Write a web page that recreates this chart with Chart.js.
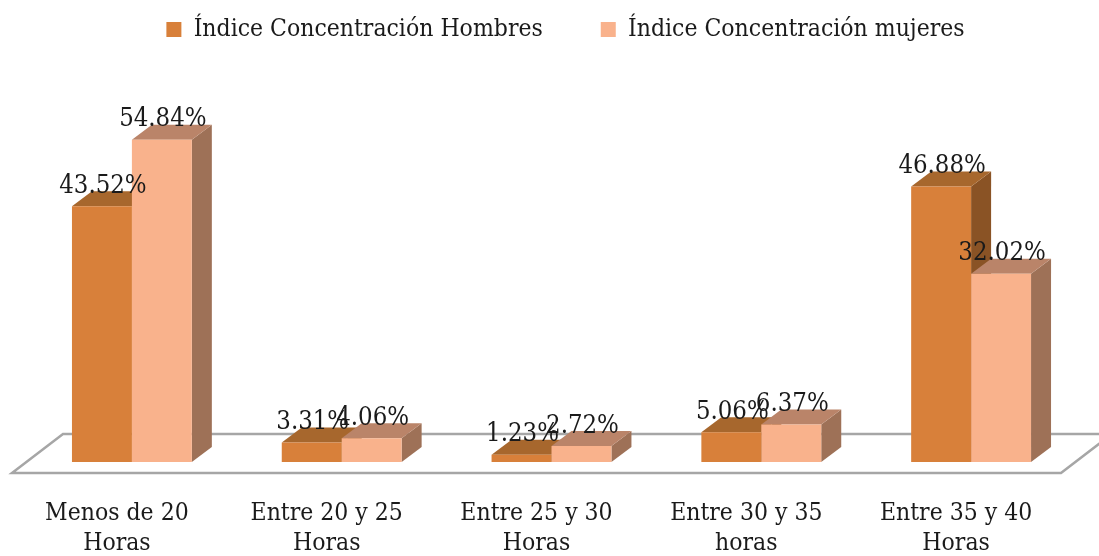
<!DOCTYPE html>
<html>
<head>
<meta charset="utf-8">
<script src="https://cdn.jsdelivr.net/npm/chart.js@4"></script>
<style>
  html, body { margin: 0; padding: 0; background: #fff; overflow: hidden; }
  canvas { display: block; }
</style>
</head>
<body>
<canvas id="hoursChart" width="1099" height="556"></canvas>
<script>
const categories = [
  ["Menos de 20", "Horas"],
  ["Entre 20 y 25", "Horas"],
  ["Entre 25 y 30", "Horas"],
  ["Entre 30 y 35", "horas"],
  ["Entre 35 y 40", "Horas"],
];
const hombres = [43.52, 3.31, 1.23, 5.06, 46.88];
const mujeres = [54.84, 4.06, 2.72, 6.37, 32.02];

const FONT = "'DejaVu Serif Condensed', 'DejaVu Serif', serif";
const DEPTH_X = 20;
const DEPTH_Y = 15;

function fillFace(ctx, pts, color) {
  ctx.fillStyle = color;
  ctx.beginPath();
  pts.forEach((p, i) => (i ? ctx.lineTo(p[0], p[1]) : ctx.moveTo(p[0], p[1])));
  ctx.closePath();
  ctx.fill();
}

// The floor, the depth of the bars and the value labels
const fake3d = {
  id: "fake3d",
  afterLayout(chart) {
    // legend sits off-centre in the original
    chart.legend.left += 14;
    chart.legend.right += 14;
    chart.legend.top += 1;
  },
  beforeDatasetsDraw(chart) {
    const { ctx, chartArea, scales } = chart;
    const base = scales.y.getPixelForValue(0);
    const front = base + 11;
    const back = base - 28;
    ctx.save();
    ctx.strokeStyle = "#a6a6a6";
    ctx.lineWidth = 2.5;
    ctx.beginPath();
    ctx.moveTo(chartArea.right + 74, back);
    ctx.lineTo(chartArea.left + 36, back);
    ctx.lineTo(chartArea.left - 15, front);
    ctx.lineTo(chartArea.right - 15, front);
    ctx.lineTo(chartArea.right + 36, back);
    ctx.stroke();
    ctx.restore();
    // side and top faces, left series first so the right one covers it
    chart.data.datasets.forEach((ds, i) => {
      chart.getDatasetMeta(i).data.forEach((bar) => {
        const l = bar.x - bar.width / 2;
        const r = bar.x + bar.width / 2;
        const t = bar.y;
        const b = bar.base;
        fillFace(ctx, [[r, b], [r + DEPTH_X, b - DEPTH_Y], [r + DEPTH_X, t - DEPTH_Y], [r, t]], ds.sideColor);
        fillFace(ctx, [[l, t], [l + DEPTH_X, t - DEPTH_Y], [r + DEPTH_X, t - DEPTH_Y], [r, t]], ds.topColor);
      });
    });
  },
  afterDatasetsDraw(chart) {
    const { ctx } = chart;
    ctx.save();
    ctx.font = "25.5px " + FONT;
    ctx.fillStyle = "#1a1a1a";
    ctx.textAlign = "center";
    ctx.textBaseline = "middle";
    chart.data.datasets.forEach((ds, i) => {
      chart.getDatasetMeta(i).data.forEach((bar, j) => {
        ctx.fillText(ds.data[j].toFixed(2) + "%", bar.x + 1, bar.y - 20);
      });
    });
    ctx.restore();
  },
};

new Chart(document.getElementById("hoursChart").getContext("2d"), {
  type: "bar",
  data: {
    labels: categories,
    datasets: [
      {
        label: "Índice Concentración Hombres",
        data: hombres,
        backgroundColor: "#d8803a",
        topColor: "#a7672d",
        sideColor: "#8a5325",
      },
      {
        label: "Índice Concentración mujeres",
        data: mujeres,
        backgroundColor: "#f9b28c",
        topColor: "#ba8469",
        sideColor: "#9e7157",
      },
    ],
  },
  options: {
    responsive: false,
    animation: false,
    layout: { padding: { top: -41.8, left: 27, right: 23, bottom: 0 } },
    datasets: { bar: { categoryPercentage: 0.5714, barPercentage: 1 } },
    plugins: {
      tooltip: { enabled: false },
      legend: {
        position: "top",
        labels: {
          boxWidth: 15,
          boxHeight: 15,
          padding: 58,
          color: "#1a1a1a",
          font: { family: FONT, size: 24.5 },
        },
      },
    },
    scales: {
      x: {
        grid: { display: false },
        border: { display: false },
        afterFit(scale) { scale.height = 94; },
        ticks: {
          maxRotation: 0,
          autoSkip: false,
          padding: 29,
          labelOffset: -15,
          color: "#1a1a1a",
          font: { family: FONT, size: 24.5, lineHeight: 1.22 },
        },
      },
      y: { display: false, min: 0, max: 70 },
    },
  },
  plugins: [fake3d],
});
</script>
</body>
</html>
